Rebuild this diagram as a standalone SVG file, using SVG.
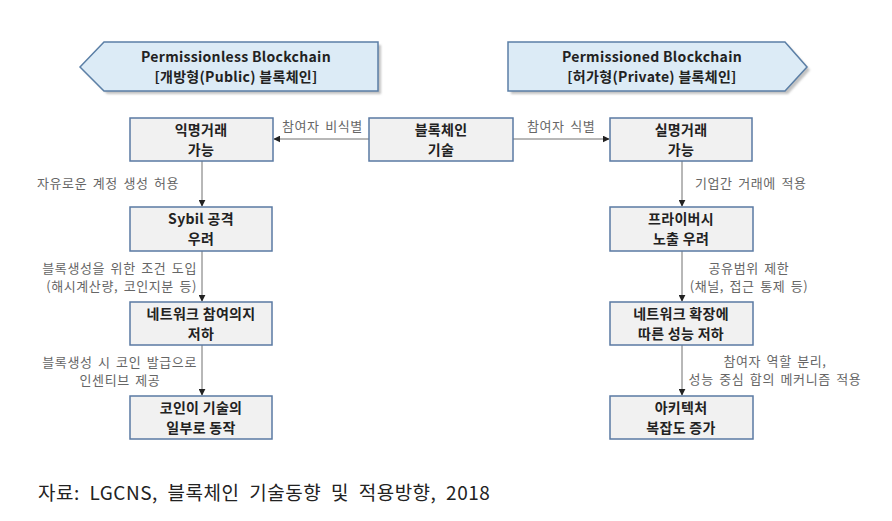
<svg xmlns="http://www.w3.org/2000/svg" width="892" height="521" viewBox="0 0 892 521">
<defs>
<style>
.bn{fill:#dcebf6;stroke:#5b7fa6;stroke-width:1.5}
.sh{fill:#9a9a9a;opacity:0.6}
.bx{fill:#f1f1f1;stroke:#5a79a3;stroke-width:1.5}
.t{font-family:"Noto Sans CJK KR","Liberation Sans",sans-serif;font-weight:bold;font-size:14px;fill:#222;text-anchor:middle;letter-spacing:0.3px}
.l{font-family:"Noto Sans CJK KR","Liberation Sans",sans-serif;font-size:13px;fill:#666;letter-spacing:0.6px;word-spacing:2px}
.c{stroke:#707070;stroke-width:1;fill:none}
.f{font-family:"Noto Sans CJK KR","Liberation Sans",sans-serif;font-size:19px;fill:#222;letter-spacing:0.5px;word-spacing:5px}
</style>
<marker id="ah" viewBox="0 0 10 10" refX="9" refY="5" markerWidth="7" markerHeight="7" orient="auto" markerUnits="userSpaceOnUse">
<path d="M0,0 L10,5 L0,10 z" fill="#222"/>
</marker>
<filter id="blur" x="-10%" y="-10%" width="120%" height="140%"><feGaussianBlur stdDeviation="1.2"/></filter>
</defs>

<g id="banner-left">
<polygon class="sh" filter="url(#blur)" points="83,70 107,45 381,45 381,94 107,94"/>
<polygon class="bn" points="80,67 104,42 378,42 378,91 104,91"/>
<text class="t" x="236" y="62">Permissionless Blockchain</text>
<text class="t" x="236" y="82">[개방형(Public) 블록체인]</text>
</g>

<g id="banner-right">
<polygon class="sh" filter="url(#blur)" points="511,45 788,45 810,70 788,94 511,94"/>
<polygon class="bn" points="508,42 785,42 807,67 785,91 508,91"/>
<text class="t" x="652" y="62">Permissioned Blockchain</text>
<text class="t" x="652" y="82">[허가형(Private) 블록체인]</text>
</g>

<g id="connectors">
<line class="c" x1="369" y1="139" x2="274" y2="139" marker-end="url(#ah)"/>
<line class="c" x1="513" y1="139" x2="609" y2="139" marker-end="url(#ah)"/>
<line class="c" x1="202" y1="161" x2="202" y2="206" marker-end="url(#ah)"/>
<line class="c" x1="202" y1="251" x2="202" y2="301" marker-end="url(#ah)"/>
<line class="c" x1="202" y1="345" x2="202" y2="395" marker-end="url(#ah)"/>
<line class="c" x1="682" y1="161" x2="682" y2="206" marker-end="url(#ah)"/>
<line class="c" x1="682" y1="251" x2="682" y2="301" marker-end="url(#ah)"/>
<line class="c" x1="682" y1="345" x2="682" y2="395" marker-end="url(#ah)"/>
<text class="l" x="282" y="131">참여자 비식별</text>
<text class="l" x="527" y="131">참여자 식별</text>
<text class="l" x="37" y="188">자유로운 계정 생성 허용</text>
<text class="l" x="197" y="273" text-anchor="end">블록생성을 위한 조건 도입</text>
<text class="l" x="197" y="291" text-anchor="end">(해시계산량, 코인지분 등)</text>
<text class="l" x="197" y="367" text-anchor="end">블록생성 시 코인 발급으로</text>
<text class="l" x="120" y="385" text-anchor="middle">인센티브 제공</text>
<text class="l" x="695" y="188">기업간 거래에 적용</text>
<text class="l" x="749" y="273" text-anchor="middle">공유범위 제한</text>
<text class="l" x="749" y="291" text-anchor="middle">(채널, 접근 통제 등)</text>
<text class="l" x="775" y="366" text-anchor="middle">참여자 역할 분리,</text>
<text class="l" x="775" y="384" text-anchor="middle">성능 중심 합의 메커니즘 적용</text>
</g>

<g id="center">
<rect class="bx" x="369" y="118" width="144" height="43"/>
<text class="t" x="441" y="135">블록체인</text>
<text class="t" x="441" y="155">기술</text>
</g>

<g id="l1">
<rect class="bx" x="130" y="118" width="143" height="43"/>
<text class="t" x="201" y="135">익명거래</text>
<text class="t" x="201" y="155">가능</text>
</g>
<g id="l2">
<rect class="bx" x="130" y="207" width="142" height="44"/>
<text class="t" x="201" y="224">Sybil 공격</text>
<text class="t" x="201" y="244">우려</text>
</g>
<g id="l3">
<rect class="bx" x="130" y="302" width="142" height="43"/>
<text class="t" x="201" y="319">네트워크 참여의지</text>
<text class="t" x="201" y="339">저하</text>
</g>
<g id="l4">
<rect class="bx" x="130" y="396" width="142" height="43"/>
<text class="t" x="201" y="413">코인이 기술의</text>
<text class="t" x="201" y="433">일부로 동작</text>
</g>

<g id="r1">
<rect class="bx" x="610" y="118" width="142" height="43"/>
<text class="t" x="681" y="135">실명거래</text>
<text class="t" x="681" y="155">가능</text>
</g>
<g id="r2">
<rect class="bx" x="610" y="207" width="143" height="44"/>
<text class="t" x="681" y="224">프라이버시</text>
<text class="t" x="681" y="244">노출 우려</text>
</g>
<g id="r3">
<rect class="bx" x="610" y="302" width="143" height="43"/>
<text class="t" x="681" y="319">네트워크 확장에</text>
<text class="t" x="681" y="339">따른 성능 저하</text>
</g>
<g id="r4">
<rect class="bx" x="610" y="396" width="143" height="43"/>
<text class="t" x="681" y="413">아키텍처</text>
<text class="t" x="681" y="433">복잡도 증가</text>
</g>

<text class="f" x="38" y="500">자료: LGCNS, 블록체인 기술동향 및 적용방향, 2018</text>
</svg>
